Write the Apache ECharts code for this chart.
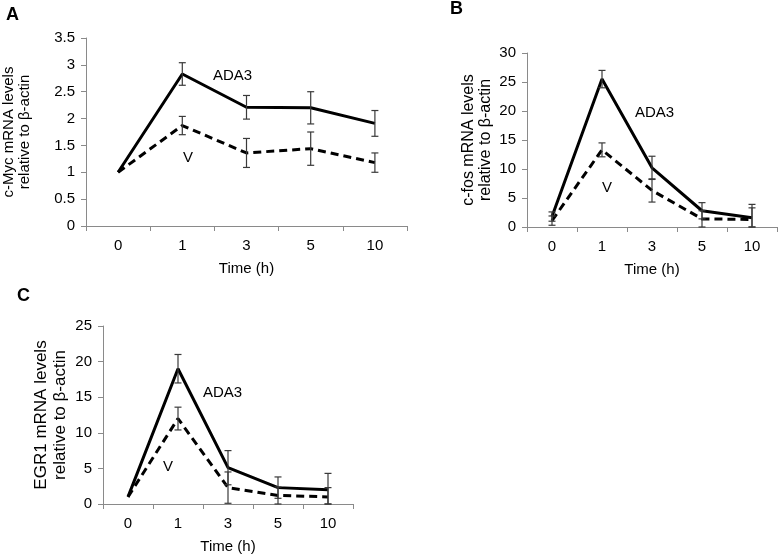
<!DOCTYPE html>
<html>
<head>
<meta charset="utf-8">
<script src="https://cdn.jsdelivr.net/npm/echarts@6/dist/echarts.min.js"></script>
<style>html,body{margin:0;padding:0;background:#fff}#c{width:778px;height:555px}</style>
</head>
<body>
<div id="c"></div>
<script>
// ---- data ----
const categories = ['0', '1', '3', '5', '10'];

const cmycADA3    = [1, 2.83, 2.21, 2.20, 1.91];
const cmycADA3Err = [0, 0.21, 0.22, 0.30, 0.24];
const cmycV       = [1, 1.87, 1.36, 1.44, 1.18];
const cmycVErr    = [0, 0.17, 0.27, 0.31, 0.18];

const cfosADA3    = [1.8, 25.5, 10.2, 2.8, 1.6];
const cfosADA3Err = [0.8, 1.5, 2.0, 1.4, 2.3];
const cfosV       = [1.1, 13.3, 6.3, 1.4, 1.3];
const cfosVErr    = [0.8, 1.2, 2.0, 1.4, 2.0];

const egr1ADA3    = [1, 19.0, 5.1, 2.3, 2.0];
const egr1ADA3Err = [0, 2.0, 2.4, 1.5, 2.3];
const egr1V       = [1, 12.0, 2.3, 1.2, 1.0];
const egr1VErr    = [0, 1.6, 2.2, 1.2, 1.3];

const yMaxA = 3.5, yStepA = 0.5;
const yMaxB = 30,  yStepB = 5;
const yMaxC = 25,  yStepC = 5;

const panelLetters = ['A', 'B', 'C'];
const yNames = ['c-Myc mRNA levels\nrelative to β-actin', 'c-fos mRNA levels\nrelative to β-actin', 'EGR1 mRNA levels\nrelative to β-actin'];
const xName = 'Time (h)';
const seriesNames = ['ADA3', 'V'];

// ---- chart ----
const FONT = 'Liberation Sans, Arial, sans-serif';
const AX = '#8a8a8a';

const grids = [
  {left: 82, top: 38, width: 325, height: 188},
  {left: 527, top: 53, width: 250, height: 174},
  {left: 103, top: 326, width: 250, height: 180}
];
const yCfg = [
  {max: yMaxA, step: yStepA, gap: 53, fs: 15, lh: 16, tfs: 15},
  {max: yMaxB, step: yStepB, gap: 33, fs: 16, lh: 17, tfs: 15},
  {max: yMaxC, step: yStepC, gap: 33, fs: 17, lh: 19, tfs: 15}
];

function errRender(params, api) {
  const x = api.value(0), v = api.value(1), e = api.value(2);
  if (!e) return null;
  const top = api.coord([x, v + e]);
  const bot = api.coord([x, Math.max(0, v - e)]);
  const hw = 3.5;
  const st = {stroke: '#3a3a3a', lineWidth: 1.2};
  return {type: 'group', children: [
    {type: 'line', shape: {x1: top[0], y1: top[1], x2: bot[0], y2: bot[1]}, style: st},
    {type: 'line', shape: {x1: top[0] - hw, y1: top[1], x2: top[0] + hw, y2: top[1]}, style: st},
    {type: 'line', shape: {x1: bot[0] - hw, y1: bot[1], x2: bot[0] + hw, y2: bot[1]}, style: st}
  ]};
}

const panels = [
  [cmycADA3, cmycADA3Err, cmycV, cmycVErr],
  [cfosADA3, cfosADA3Err, cfosV, cfosVErr],
  [egr1ADA3, egr1ADA3Err, egr1V, egr1VErr]
];

const xAxis = [], yAxis = [], series = [];
panels.forEach((p, i) => {
  xAxis.push({
    type: 'category', gridIndex: i, data: categories, boundaryGap: true,
    name: xName, nameLocation: 'middle', nameGap: 35,
    nameTextStyle: {fontFamily: FONT, fontSize: 15, color: '#000'},
    axisLine: {lineStyle: {color: AX, width: 1}},
    axisTick: {show: true, length: 5, lineStyle: {color: AX}, alignWithLabel: false},
    axisLabel: {fontFamily: FONT, fontSize: yCfg[i].tfs, color: '#000', margin: 12}
  });
  yAxis.push({
    type: 'value', gridIndex: i, min: 0, max: yCfg[i].max, interval: yCfg[i].step,
    name: yNames[i], nameLocation: 'middle', nameRotate: 90, nameGap: yCfg[i].gap,
    nameTextStyle: {fontFamily: FONT, fontSize: yCfg[i].fs, lineHeight: yCfg[i].lh, color: '#000'},
    axisLine: {show: true, lineStyle: {color: AX, width: 1}},
    axisTick: {show: true, length: 5, lineStyle: {color: AX}},
    splitLine: {show: false},
    axisLabel: {fontFamily: FONT, fontSize: yCfg[i].tfs, color: '#000', margin: 11}
  });
  series.push({
    type: 'line', name: seriesNames[0], xAxisIndex: i, yAxisIndex: i, data: p[0],
    showSymbol: false, lineStyle: {color: '#000', width: 3}, z: 3, animation: false
  });
  series.push({
    type: 'line', name: seriesNames[1], xAxisIndex: i, yAxisIndex: i, data: p[2],
    showSymbol: false, lineStyle: {color: '#000', width: 3, type: [8, 5]}, z: 3, animation: false
  });
  series.push({
    type: 'custom', xAxisIndex: i, yAxisIndex: i, renderItem: errRender,
    data: p[0].map((v, k) => [k, v, p[1][k]]), encode: {x: 0, y: 1}, z: 5, animation: false
  });
  series.push({
    type: 'custom', xAxisIndex: i, yAxisIndex: i, renderItem: errRender,
    data: p[2].map((v, k) => [k, v, p[3][k]]), encode: {x: 0, y: 1}, z: 5, animation: false
  });
});

const txt = (x, y, t, fs, fw) => ({type: 'text', left: x, top: y, style: {text: t, font: (fw || 'normal') + ' ' + fs + 'px ' + FONT, fill: '#000'}});

const chart = echarts.init(document.getElementById('c'), null, {renderer: 'canvas'});
chart.setOption({
  backgroundColor: '#fff',
  animation: false,
  grid: grids,
  xAxis: xAxis,
  yAxis: yAxis,
  series: series,
  graphic: [
    txt(6, 6, panelLetters[0], 18, 'bold'),
    txt(450, 0, panelLetters[1], 18, 'bold'),
    txt(17, 287, panelLetters[2], 18, 'bold'),
    txt(213, 68, seriesNames[0], 15),
    txt(183, 150, seriesNames[1], 15),
    txt(635, 105, seriesNames[0], 15),
    txt(602, 180, seriesNames[1], 15),
    txt(203, 385, seriesNames[0], 15),
    txt(163, 459, seriesNames[1], 15)
  ]
});
</script>
</body>
</html>
